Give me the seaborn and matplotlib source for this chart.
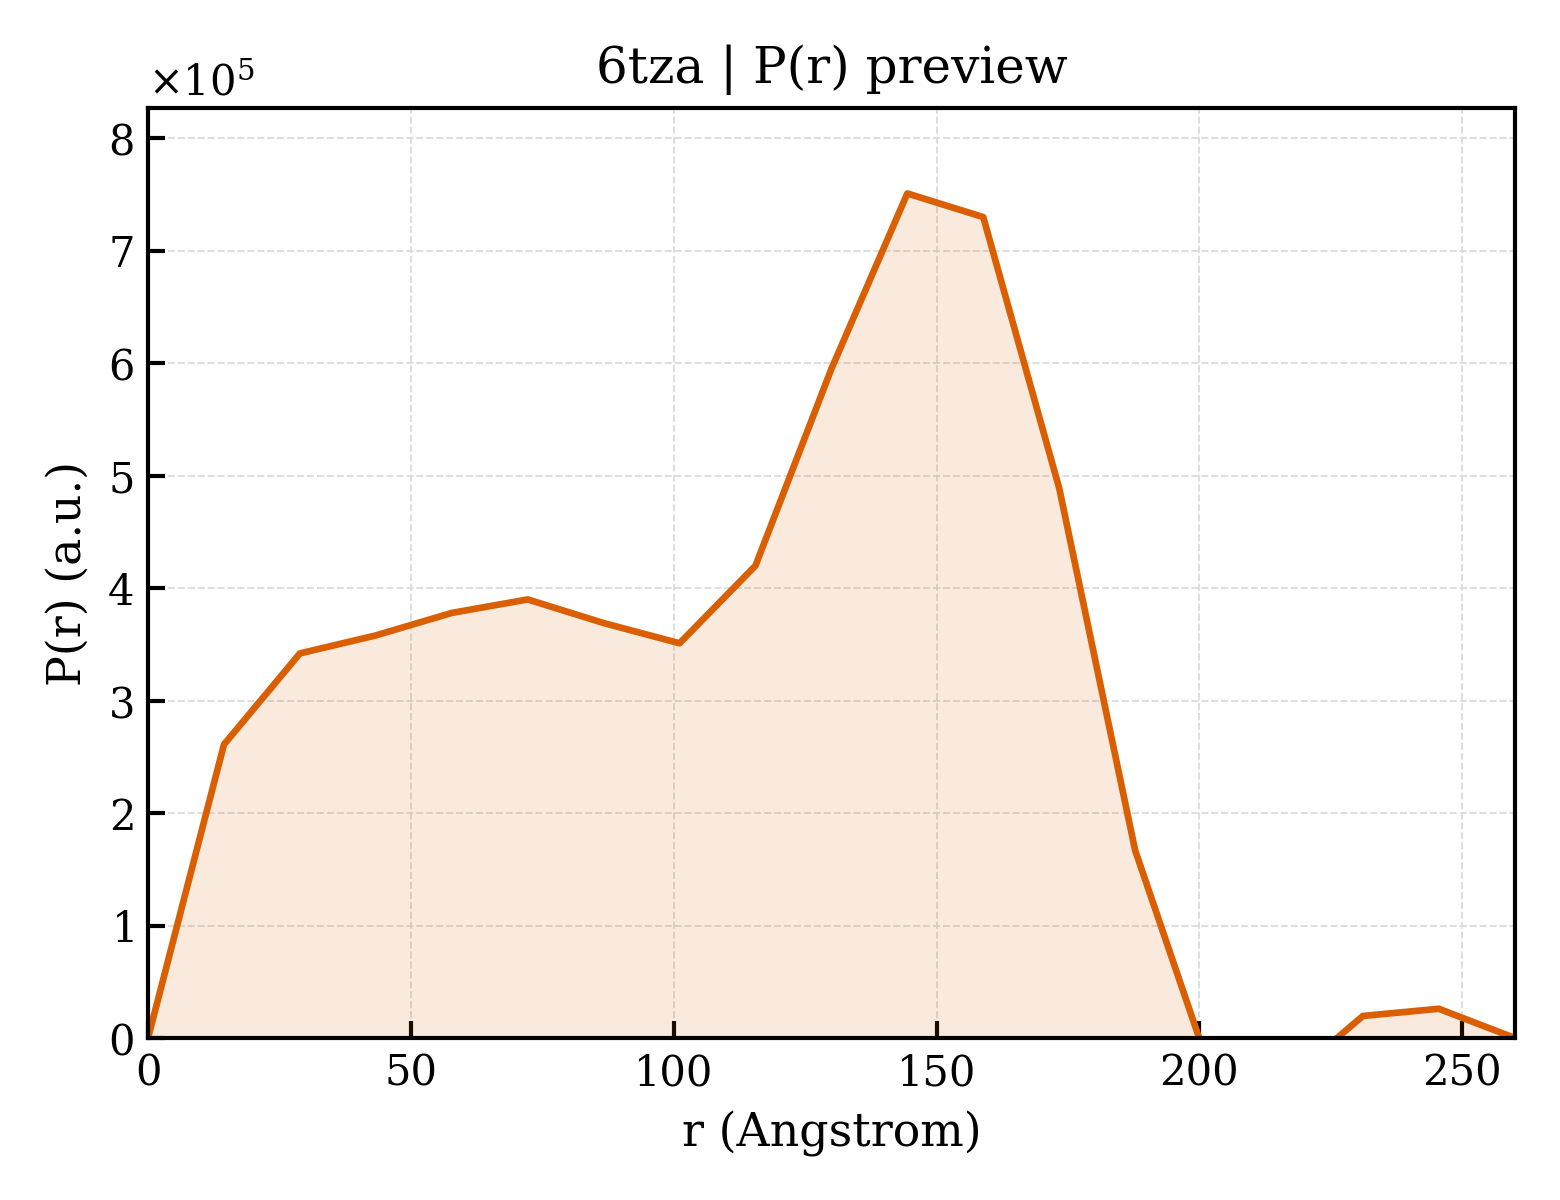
import numpy as np
import matplotlib
matplotlib.use("Agg")
import matplotlib.pyplot as plt
import seaborn as sns
import pandas as pd

# Data
r_values = np.linspace(0, 260, 19)
p_values = [0.0, 2.61, 3.42, 3.58, 3.78, 3.90, 3.69, 3.51, 4.20, 5.95,
            7.51, 7.30, 4.89, 1.67, -0.31, -0.38, 0.196, 0.26, 0.0]
p_values = [v * 1e5 for v in p_values]

title = "6tza | P(r) preview"
xlabel = "r (Angstrom)"
ylabel = "P(r) (a.u.)"
line_color = "#D95F02"

df = pd.DataFrame({"r": r_values, "P": p_values})

sns.set_theme(style="white")
plt.rcParams["font.family"] = ["DejaVu Serif"]
plt.rcParams["mathtext.fontset"] = "dejavuserif"
plt.rcParams["text.color"] = "black"
plt.rcParams["axes.labelcolor"] = "black"
plt.rcParams["xtick.color"] = "black"
plt.rcParams["ytick.color"] = "black"

fig = plt.figure(figsize=(5.2, 4), dpi=300)
ax = fig.add_axes([0.0949, 0.135, 0.971 - 0.0949, 0.91 - 0.135])

ax.fill_between(df["r"], 0, df["P"], color=line_color, alpha=0.13, linewidth=0)
sns.lineplot(data=df, x="r", y="P", ax=ax, color=line_color, linewidth=1.6)

ax.set_xlim(0, 260)
ax.set_ylim(0, 8.27e5)
ax.set_title(title, fontsize=12, color="black")
ax.set_xlabel(xlabel, fontsize=11, color="black")
ax.set_ylabel(ylabel, fontsize=11, color="black")
ax.ticklabel_format(axis="y", style="sci", scilimits=(0, 0), useMathText=True)
ax.yaxis.get_offset_text().set_fontsize(10)
ax.yaxis.get_offset_text().set_color("black")

ax.tick_params(direction="in", length=4, width=1, labelsize=10, colors="black",
               left=True, bottom=True, top=False, right=False)
ax.grid(True, linestyle="--", color="#dcdcdc", linewidth=0.45)
for s in ax.spines.values():
    s.set_color("black")
    s.set_linewidth(1.0)
ax.set_axisbelow(True)

fig.savefig("out.png", dpi=300)
